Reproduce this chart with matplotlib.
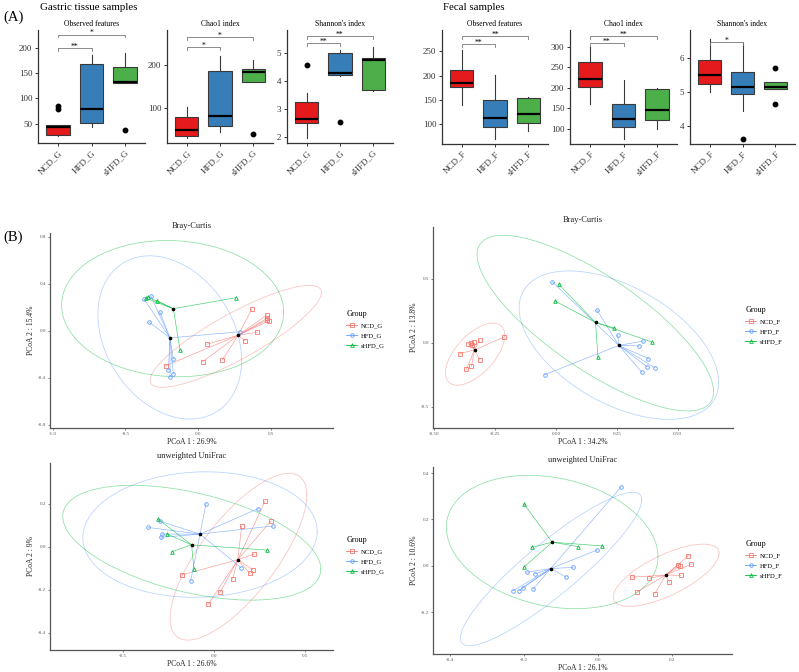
import numpy as np
import matplotlib.pyplot as plt
from matplotlib.lines import Line2D

plt.rcParams['font.family'] = ['Liberation Serif', 'DejaVu Serif']
plt.rcParams['axes.unicode_minus'] = False

W, H = 799, 672

# ---------------------------------------------------------------------------
# (A) alpha diversity: box summaries [whislo, q1, med, q3, whishi] + fliers
# ---------------------------------------------------------------------------
gastric_groups = ["NCD_G", "HFD_G", "sHFD_G"]
fecal_groups = ["NCD_F", "HFD_F", "sHFD_F"]
metric_titles = ["Observed features", "Chao1 index", "Shannon's index"]

g_obs_stats = [[25, 27, 43, 47, 47], [44, 52, 80, 167, 185], [130, 130, 133, 162, 190]]
g_obs_fliers = [[80, 85], [], [38]]
g_obs_sig = [("**", 200), ("*", 226)]

g_chao_stats = [[31, 37, 50, 79, 102], [46, 59, 82, 187, 221], [161, 161, 183, 191, 211]]
g_chao_fliers = [[], [], [41]]
g_chao_sig = [("*", 241), ("*", 264)]

g_shan_stats = [[1.97, 2.52, 2.64, 3.26, 3.56], [4.18, 4.21, 4.29, 4.98, 5.1], [3.65, 3.68, 4.74, 4.82, 5.21]]
g_shan_fliers = [[4.56], [2.54], []]
g_shan_sig = [("**", 5.33), ("**", 5.59)]

f_obs_stats = [[139, 176, 185, 212, 252], [71, 94, 113, 149, 202], [87, 103, 121, 154, 156]]
f_obs_fliers = [[], [], []]
f_obs_sig = [("**", 264), ("**", 281)]

f_chao_stats = [[160, 201, 222, 263, 298], [76, 105, 125, 162, 220], [100, 122, 147, 196, 200]]
f_chao_fliers = [[], [], []]
f_chao_sig = [("**", 308), ("**", 326)]

f_shan_stats = [[5.0, 5.22, 5.49, 5.93, 6.54], [4.45, 4.93, 5.13, 5.57, 6.44], [5.08, 5.08, 5.15, 5.29, 5.29]]
f_shan_fliers = [[], [3.63], [5.69, 4.63]]
f_shan_sig = [("*", 6.45)]

# ---------------------------------------------------------------------------
# (B) PCoA coordinates per group
# ---------------------------------------------------------------------------
# Bray-Curtis, gastric
bcg_ncd_x = [0.37, 0.473, 0.477, 0.473, 0.49, 0.408, 0.323, 0.06, 0.032, 0.167, -0.222]
bcg_ncd_y = [0.185, 0.136, 0.108, 0.094, 0.088, -0.011, -0.085, -0.113, -0.261, -0.247, -0.295]
bcg_hfd_x = [-0.372, -0.326, -0.262, -0.335, -0.17, -0.204, -0.17, -0.193, 0.289]
bcg_hfd_y = [0.272, 0.30, 0.159, 0.074, -0.238, -0.332, -0.366, -0.394, -0.006]
bcg_shfd_x = [-0.358, -0.346, -0.284, 0.26, -0.124]
bcg_shfd_y = [0.278, 0.29, 0.258, 0.283, -0.162]

# Bray-Curtis, fecal
bcf_ncd_x = [-0.213, -0.313, -0.338, -0.35, -0.361, -0.345, -0.396, -0.313, -0.347, -0.368]
bcf_ncd_y = [0.044, 0.018, 0.005, 0.0, -0.008, -0.021, -0.086, -0.133, -0.185, -0.209]
bcf_hfd_x = [-0.014, 0.17, 0.254, 0.36, 0.343, 0.38, 0.376, 0.408, 0.353, -0.045]
bcf_hfd_y = [0.473, 0.252, 0.057, 0.013, -0.026, -0.125, -0.19, -0.198, -0.23, -0.25]
bcf_shfd_x = [0.012, -0.004, 0.24, 0.394, 0.173]
bcf_shfd_y = [0.455, 0.325, 0.114, 0.005, -0.112]

# unweighted UniFrac, gastric
uug_ncd_x = [0.28, 0.313, 0.152, 0.221, 0.216, 0.197, 0.102, 0.033, -0.031, -0.177]
uug_ncd_y = [0.212, 0.121, 0.096, -0.034, -0.108, -0.124, -0.15, -0.212, -0.267, -0.131]
uug_hfd_x = [-0.044, 0.243, 0.322, -0.36, -0.296, -0.284, -0.291, 0.148, -0.128]
uug_hfd_y = [0.201, 0.178, 0.097, 0.09, 0.119, 0.059, 0.044, -0.097, -0.158]
uug_shfd_x = [-0.306, -0.256, -0.232, -0.11, 0.289]
uug_shfd_y = [0.128, 0.059, -0.023, -0.103, -0.015]

# unweighted UniFrac, fecal
uuf_ncd_x = [0.245, 0.252, 0.216, 0.222, 0.225, 0.193, 0.139, 0.092, 0.105, 0.154]
uuf_ncd_y = [0.044, 0.007, 0.004, 0.0, -0.041, -0.07, -0.053, -0.048, -0.113, -0.12]
uuf_hfd_x = [0.063, -0.001, -0.066, -0.191, -0.169, -0.085, -0.174, -0.203, -0.212, -0.229]
uuf_hfd_y = [0.34, 0.069, -0.006, -0.027, -0.034, -0.048, -0.099, -0.093, -0.106, -0.107]
uuf_shfd_x = [-0.199, -0.178, -0.052, 0.013, -0.198]
uuf_shfd_y = [0.266, 0.08, 0.083, 0.086, -0.003]

# confidence ellipses: (cx, cy, half x-extent, half y-extent, tilt)
bcg_ell = [(0.26, -0.046, 0.59, 0.434, 0.86), (-0.195, -0.055, 0.495, 0.695, -0.28),
           (-0.175, 0.19, 0.765, 0.58, -0.05)]
bcf_ell = [(-0.332, -0.09, 0.122, 0.243, 0.6), (0.259, -0.02, 0.41, 0.58, -0.5),
           (0.162, 0.152, 0.486, 0.686, -0.78)]
uug_ell = [(0.134, -0.046, 0.375, 0.388, 0.74), (-0.077, 0.057, 0.643, 0.292, 0.05),
           (-0.122, 0.019, 0.708, 0.267, -0.46)]
uuf_ell = [(0.185, -0.04, 0.143, 0.134, 0.7), (-0.126, -0.013, 0.245, 0.33, 0.9),
           (-0.123, 0.103, 0.286, 0.287, -0.22)]

box_colors = ["#E41A1C", "#377EB8", "#4DAF4A"]
grp_colors = ["#F8766D", "#619CFF", "#00BA38"]
grp_markers = ["s", "o", "^"]


def px_rect(l, t, r, b):
    return [l / W, 1 - b / H, (r - l) / W, (b - t) / H]


def draw_box(rect, stats, fliers, groups, title, ylim, yticks, sig):
    ax = fig.add_axes(px_rect(*rect))
    bstats = []
    for s, f, lab in zip(stats, fliers, groups):
        bstats.append(dict(whislo=s[0], q1=s[1], med=s[2], q3=s[3], whishi=s[4],
                           fliers=f, label=lab))
    bp = ax.bxp(bstats, positions=[1, 2, 3], widths=0.7, patch_artist=True, showcaps=False,
                boxprops=dict(edgecolor='#3a3a3a', linewidth=0.8),
                medianprops=dict(color='black', linewidth=1.6),
                whiskerprops=dict(color='#3a3a3a', linewidth=0.8),
                flierprops=dict(marker='o', markerfacecolor='black',
                                markeredgecolor='black', markersize=3.2))
    for patch, c in zip(bp['boxes'], box_colors):
        patch.set_facecolor(c)
    ax.set_xlim(0.4, 3.6)
    ax.set_ylim(*ylim)
    ax.set_yticks(yticks)
    ax.set_xticks([1, 2, 3])
    ax.set_xticklabels(groups, rotation=45, ha='right', va='top', rotation_mode='anchor')
    ax.tick_params(labelsize=6.5, colors='#333333', length=2.5, width=0.7, pad=1.5)
    for sp in ['top', 'right']:
        ax.spines[sp].set_visible(False)
    for sp in ['left', 'bottom']:
        ax.spines[sp].set_color('#333333')
        ax.spines[sp].set_linewidth(0.9)
    ax.set_title(title, fontsize=5.5, pad=3)
    h = (ylim[1] - ylim[0]) * 0.025
    for (i, j), (lab, y) in zip([(1, 2), (1, 3)], sig):
        ax.plot([i, i, j, j], [y - h, y, y, y - h], color='#777777', lw=0.6, clip_on=False)
        ax.annotate(lab, ((i + j) / 2, y), xytext=(0, -0.5), textcoords='offset points',
                    ha='center', va='baseline', fontsize=5.5)
    return ax


def draw_pcoa(rect, xs, ys, ells, labels, title, xlab, ylab, xlim, ylim,
              xticks, yticks, xfmt, yfmt, leg_xy):
    ax = fig.add_axes(px_rect(*rect))
    t = np.linspace(0, 2 * np.pi, 300)
    for k in range(3):
        c, m = grp_colors[k], grp_markers[k]
        x = np.array(xs[k])
        y = np.array(ys[k])
        cx, cy = x.mean(), y.mean()
        for xi, yi in zip(x, y):
            ax.plot([cx, xi], [cy, yi], color=c, lw=0.45, alpha=0.75, zorder=2)
        ax.plot(x, y, ls='none', marker=m, mfc='none', mec=c, ms=2.6, mew=0.6, zorder=3)
        ex0, ey0, a, b, r = ells[k]
        ax.plot(ex0 + a * np.cos(t), ey0 + b * (r * np.cos(t) + np.sqrt(1 - r * r) * np.sin(t)),
                color=c, lw=0.55, alpha=0.45, zorder=1)
        ax.plot(cx, cy, 'o', color='black', ms=1.6, zorder=4)
    ax.set_xlim(*xlim)
    ax.set_ylim(*ylim)
    ax.set_xticks(xticks)
    ax.set_yticks(yticks)
    ax.set_xticklabels([xfmt.format(v) for v in xticks])
    ax.set_yticklabels([yfmt.format(v) for v in yticks])
    ax.tick_params(labelsize=3.6, colors='#555555', length=1.5, width=0.5, pad=1.5)
    for sp in ['top', 'right']:
        ax.spines[sp].set_visible(False)
    for sp in ['left', 'bottom']:
        ax.spines[sp].set_color('#555555')
        ax.spines[sp].set_linewidth(0.9)
    ax.set_title(title, fontsize=6, pad=3.5, color='#222222')
    ax.set_xlabel(xlab, fontsize=5.5, labelpad=1.5, color='#222222')
    ax.set_ylabel(ylab, fontsize=5.5, labelpad=2, color='#222222')
    handles = [Line2D([0], [0], color=grp_colors[k], marker=grp_markers[k], mfc='none',
                      mec=grp_colors[k], ms=2.6, mew=0.6, lw=0.6) for k in range(3)]
    ax.legend(handles, labels, title="Group", loc='upper left',
              bbox_to_anchor=(leg_xy[0] / W, 1 - leg_xy[1] / H),
              bbox_transform=fig.transFigure, frameon=False, fontsize=4.8,
              title_fontsize=5.8, handlelength=1.6, handletextpad=0.6,
              labelspacing=0.65, borderpad=0, alignment='left')
    return ax


fig = plt.figure(figsize=(W / 100, H / 100), dpi=100)

fig.text(3 / W, 1 - 17 / H, "(A)", fontsize=10.5, va='center', ha='left')
fig.text(40 / W, 1 - 7 / H, "Gastric tissue samples", fontsize=7.8, va='center', ha='left')
fig.text(443 / W, 1 - 7 / H, "Fecal samples", fontsize=7.8, va='center', ha='left')
fig.text(3 / W, 1 - 237 / H, "(B)", fontsize=10.5, va='center', ha='left')

draw_box((38, 30, 145, 143), g_obs_stats, g_obs_fliers, gastric_groups, metric_titles[0],
         (12, 235), [50, 100, 150, 200], g_obs_sig)
draw_box((167, 30, 273, 143), g_chao_stats, g_chao_fliers, gastric_groups, metric_titles[1],
         (20, 281), [100, 200], g_chao_sig)
draw_box((287, 30, 393, 143), g_shan_stats, g_shan_fliers, gastric_groups, metric_titles[2],
         (1.8, 5.8), [2, 3, 4, 5], g_shan_sig)
draw_box((442, 30, 548, 144), f_obs_stats, f_obs_fliers, fecal_groups, metric_titles[0],
         (60, 293), [100, 150, 200, 250], f_obs_sig)
draw_box((570, 30, 677, 144), f_chao_stats, f_chao_fliers, fecal_groups, metric_titles[1],
         (64, 340), [100, 150, 200, 250, 300], f_chao_sig)
draw_box((690, 30, 795, 144), f_shan_stats, f_shan_fliers, fecal_groups, metric_titles[2],
         (3.47, 6.81), [4, 5, 6], f_shan_sig)

draw_pcoa((50, 233, 333, 428), [bcg_ncd_x, bcg_hfd_x, bcg_shfd_x], [bcg_ncd_y, bcg_hfd_y, bcg_shfd_y],
          bcg_ell, gastric_groups, "Bray-Curtis", "PCoA 1 : 26.9%", "PCoA 2 : 15.4%",
          (-1.02, 0.93), (-0.826, 0.834), [-1.0, -0.5, 0.0, 0.5], [-0.8, -0.4, 0.0, 0.4, 0.8],
          "{:.1f}", "{:.1f}", (343, 307))
draw_pcoa((433, 227, 733, 428), [bcf_ncd_x, bcf_hfd_x, bcf_shfd_x], [bcf_ncd_y, bcf_hfd_y, bcf_shfd_y],
          bcf_ell, fecal_groups, "Bray-Curtis", "PCoA 1 : 34.2%", "PCoA 2 : 13.8%",
          (-0.505, 0.728), (-0.667, 0.903), [-0.5, -0.25, 0.0, 0.25, 0.5], [-0.5, 0.0, 0.5],
          "{:.2f}", "{:.1f}", (742, 303))
draw_pcoa((50, 463, 333, 650), [uug_ncd_x, uug_hfd_x, uug_shfd_x], [uug_ncd_y, uug_hfd_y, uug_shfd_y],
          uug_ell, gastric_groups, "unweighted UniFrac", "PCoA 1 : 26.6%", "PCoA 2 : 9%",
          (-0.9, 0.653), (-0.48, 0.39), [-0.5, 0.0, 0.5], [-0.4, -0.2, 0.0, 0.2],
          "{:.1f}", "{:.1f}", (343, 533))
draw_pcoa((433, 467, 732, 654), [uuf_ncd_x, uuf_hfd_x, uuf_shfd_x], [uuf_ncd_y, uuf_hfd_y, uuf_shfd_y],
          uuf_ell, fecal_groups, "unweighted UniFrac", "PCoA 1 : 26.1%", "PCoA 2 : 10.6%",
          (-0.445, 0.363), (-0.379, 0.426), [-0.4, -0.2, 0.0, 0.2], [-0.2, 0.0, 0.2, 0.4],
          "{:.1f}", "{:.1f}", (742, 537))

fig.savefig("out.png", dpi=100)
